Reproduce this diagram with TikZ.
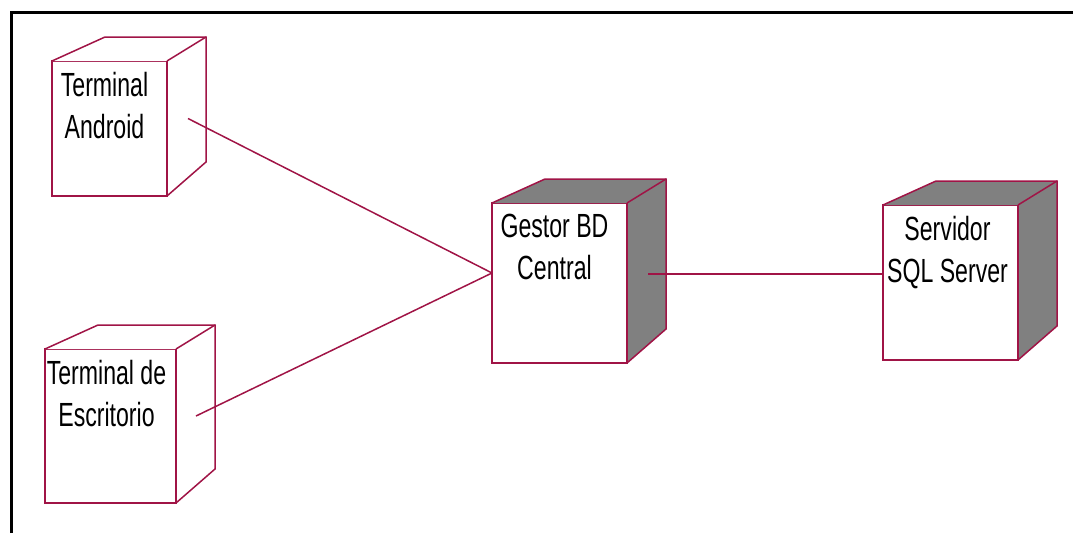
\documentclass[tikz,border=0pt]{standalone}
\usepackage{fontspec}
\setmainfont{Liberation Sans}[FakeStretch=0.69]
\usetikzlibrary{positioning}
\definecolor{rosered}{RGB}{160,20,70}
\definecolor{shadegray}{RGB}{128,128,128}
\tikzset{
  face/.style={draw=rosered,line width=1.5pt,line join=miter,fill=white,inner sep=0pt,outer sep=0pt},
  edge/.style={draw=rosered,line width=1.5pt,line join=miter},
  lbl/.style={anchor=north,inner sep=0pt,align=center,font=\fontsize{33.5}{42}\selectfont},
  link/.style={draw=rosered,line width=1.5pt}
}
\newcommand{\cubesides}[2]{%
  \fill[#2] (#1.north west) -- ++(53,-24) -- ([shift={(39,-24)}]#1.north east) -- (#1.north east) -- cycle;
  \fill[#2] (#1.north east) -- ++(39,-24) -- ([shift={(39,-34)}]#1.south east) -- (#1.south east) -- cycle;
  \draw[edge] (#1.north west) -- ++(53,-24) -- ([shift={(39,-24)}]#1.north east) -- ([shift={(39,-34)}]#1.south east) -- (#1.south east);
  \draw[edge] (#1.north east) -- ++(39,-24);
  \draw[edge,line width=2.4pt] (#1.north east) -- (#1.south east);
}
\begin{document}
\begin{tikzpicture}[x=1pt,y=-1pt]
\useasboundingbox (0,0) rectangle (1073,533);
\draw[line width=3.5pt] (11.5,533) -- (11.5,12.5) -- (1073,12.5);
\node[face,minimum width=115pt,minimum height=135pt] (android) at (109.5,128.5) {};
\node[face,minimum width=131pt,minimum height=154pt] (escritorio) at (110.5,426) {};
\node[face,minimum width=135pt,minimum height=160pt] (gestor) at (559.5,283) {};
\node[face,minimum width=135pt,minimum height=155pt] (servidor) at (950.5,282.5) {};
\cubesides{android}{white}
\cubesides{escritorio}{white}
\cubesides{gestor}{shadegray}
\cubesides{servidor}{shadegray}
\node[lbl] (android-txt) at ([shift={(-5,11)}]android.north) {Terminal\\Android};
\node[lbl] (escritorio-txt) at ([shift={(-4,11)}]escritorio.north) {Terminal de\\Escritorio};
\node[lbl] (gestor-txt) at ([shift={(-5,11)}]gestor.north) {Gestor BD\\Central};
\node[lbl] (servidor-txt) at ([shift={(-3,11)}]servidor.north) {Servidor\\SQL Server};
\draw[link] ([shift={(21,-10)}]android.east) -- ([shift={(0,-10)}]gestor.west);
\draw[link] ([shift={(20,-10)}]escritorio.east) -- ([shift={(0,-10)}]gestor.west);
\draw[link] ([shift={(21,-9)}]gestor.east) -- ([shift={(0,-8.5)}]servidor.west);
\end{tikzpicture}
\end{document}
